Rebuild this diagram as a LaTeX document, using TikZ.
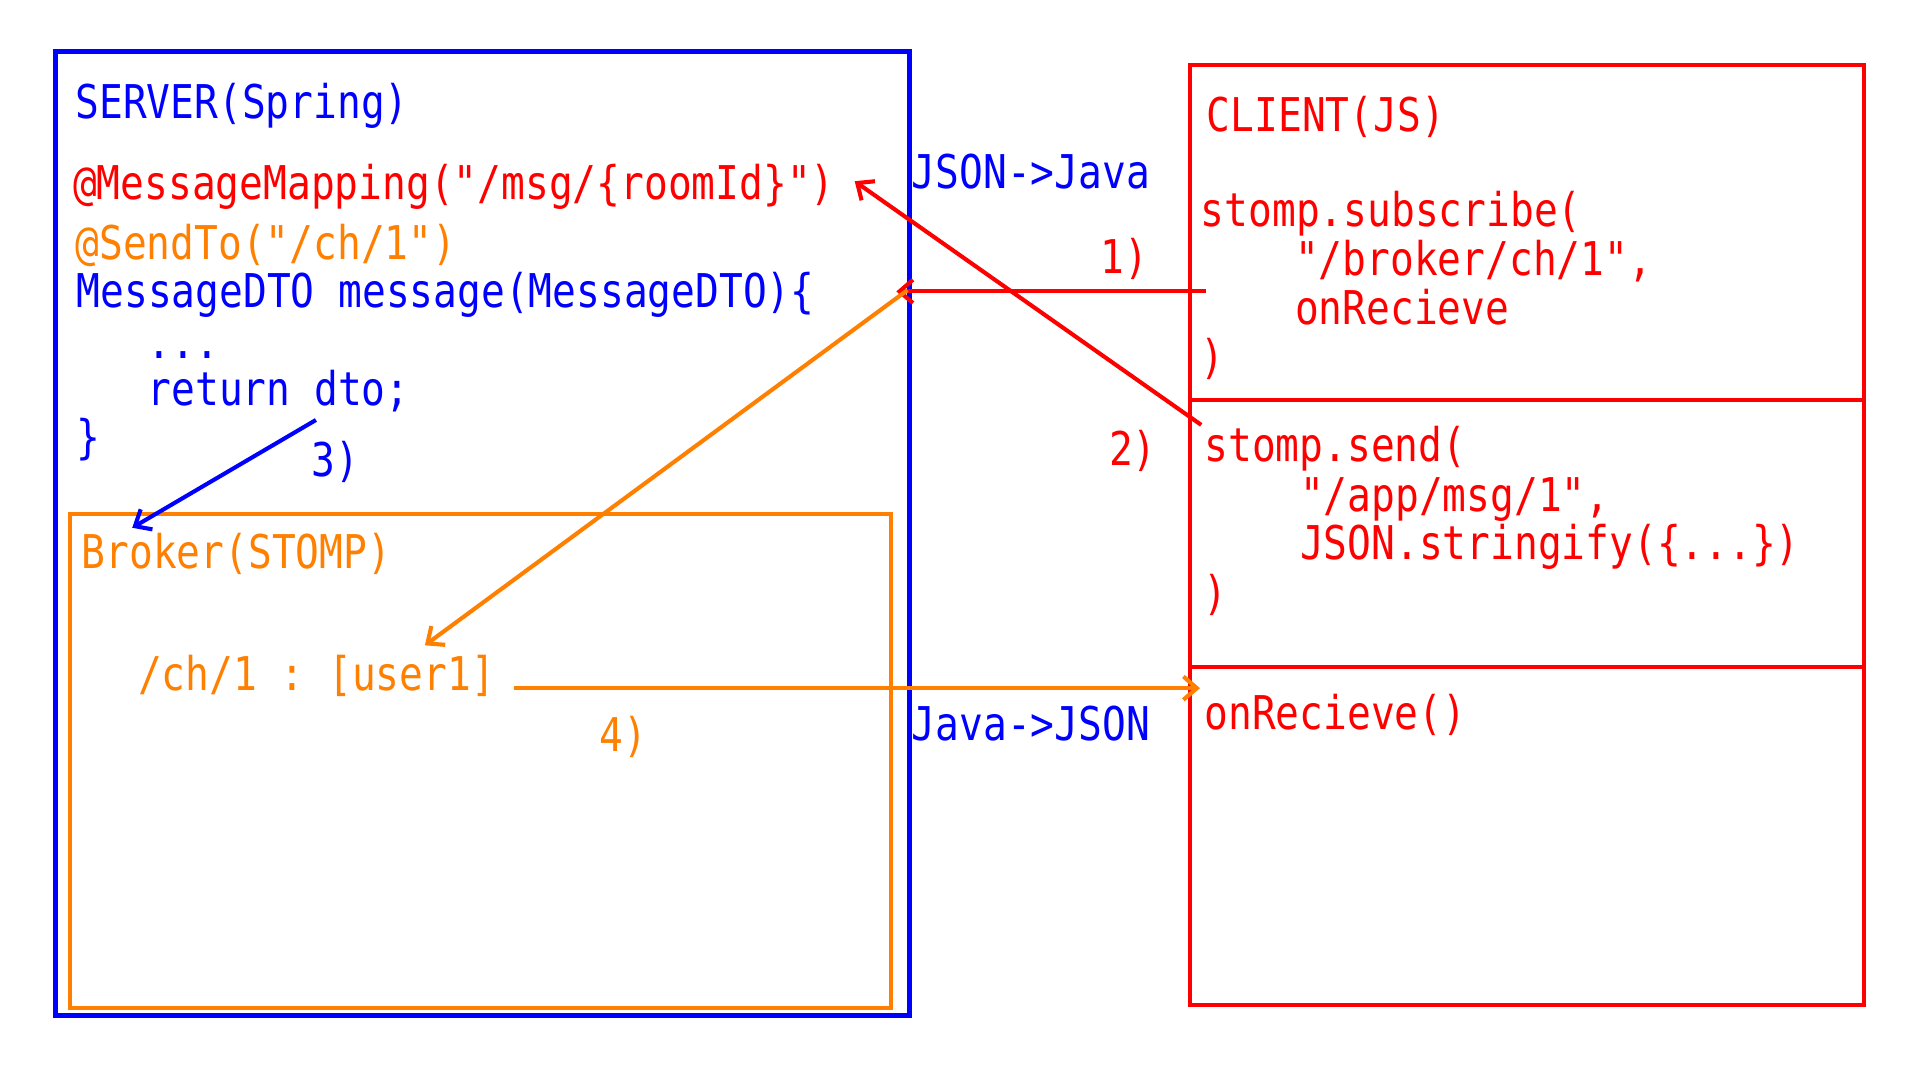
\documentclass[tikz,border=0pt]{standalone}
\usepackage{fontspec}
\setmonofont[FakeStretch=0.85]{DejaVu Sans Mono}
\usepackage{tikz}
\usetikzlibrary{positioning, arrows.meta, calc}
\definecolor{srvblue}{rgb}{0, 0, 1}
\definecolor{clired}{rgb}{1, 0, 0}
\definecolor{brkorange}{rgb}{1, 0.5, 0}

\begin{document}
\begin{tikzpicture}[x=0.01cm, y=-0.01cm]
		\tikzstyle{code}=[inner sep=0pt, anchor=base west, font=\ttfamily\fontsize{10.8}{13}\selectfont]
		\tikzstyle{flow}=[line width=0.95pt, -{Straight Barb[length=1.1mm, width=1.9mm, line width=0.95pt]}]
		\useasboundingbox (0,0) rectangle (1568,882);
		%%
		%% boxes
		\draw [srvblue, line width=1.15pt] (45,42) rectangle (743,829);
		\draw [brkorange, line width=0.95pt] (57,420) rectangle (728,823);
		\draw [clired, line width=0.95pt] (972,53) rectangle (1522,821);
		\draw [clired, line width=0.95pt] (972,327) -- (1522,327);
		\draw [clired, line width=0.95pt] (972,545) -- (1522,545);
		%%
		%% server side
		\node (srv) at (61,97) [code, text=srvblue] {SERVER(Spring)};
		\node (map) at (59,163) [code, text=clired] {@MessageMapping("/msg/\{roomId\}")};
		\node (sendto) at (61,212) [code, text=brkorange] {@SendTo("/ch/1")};
		\node (method) at (62,251) [code, text=srvblue] {MessageDTO message(MessageDTO)\{};
		\node (dots) at (120,293) [code, text=srvblue] {...};
		\node (ret) at (120,331) [code, text=srvblue] {return dto;};
		\node (close) at (62,370) [code, text=srvblue] {\}};
		\node (n3) at (254,389) [code, text=srvblue] {3)};
		%%
		\node (brk) at (66,464) [code, text=brkorange] {Broker(STOMP)};
		\node (chan) at (112,564) [code, text=brkorange] {/ch/1 : [user1]};
		\node (n4) at (489,614) [code, text=brkorange] {4)};
		%%
		\node (j2j) at (744,154) [code, text=srvblue] {JSON->Java};
		\node (j2json) at (744,605) [code, text=srvblue] {Java->JSON};
		\node (n1) at (898,223) [code, text=clired] {1)};
		\node (n2) at (905,380) [code, text=clired] {2)};
		%%
		%% client side
		\node (cli) at (985,107) [code, text=clired] {CLIENT(JS)};
		\node (sub) at (980,185) [code, text=clired] {stomp.subscribe(};
		\node (subch) at (1057,225) [code, text=clired] {"/broker/ch/1",};
		\node (subcb) at (1057,265) [code, text=clired] {onRecieve};
		\node (subend) at (980,305) [code, text=clired] {)};
		\node (snd) at (983,377) [code, text=clired] {stomp.send(};
		\node (sndurl) at (1061,418) [code, text=clired] {"/app/msg/1",};
		\node (sndbody) at (1061,457) [code, text=clired] {JSON.stringify(\{...\})};
		\node (sndend) at (982,498) [code, text=clired] {)};
		\node (rcv) at (983,596) [code, text=clired] {onRecieve()};
		%%
		%% connector ends
		\coordinate (s1) at (985,238);
		\coordinate (e1) at (732,238);
		\coordinate (s2) at (981,347);
		\coordinate (e2) at (698,148);
		\coordinate (s3) at (258,343);
		\coordinate (e3) at (108,431);
		\coordinate (so) at (741,237);
		\coordinate (eo) at (347,527);
		\coordinate (s4) at (420,562);
		\coordinate (e4) at (980,562);
		%%
		\draw [flow, clired] (s1) -- (e1);
		\draw [flow, clired] (s2) -- (e2);
		\draw [flow, srvblue] (s3) -- (e3);
		\draw [flow, brkorange] (so) -- (eo);
		\draw [flow, brkorange] (s4) -- (e4);
		\end{tikzpicture}
\end{document}
